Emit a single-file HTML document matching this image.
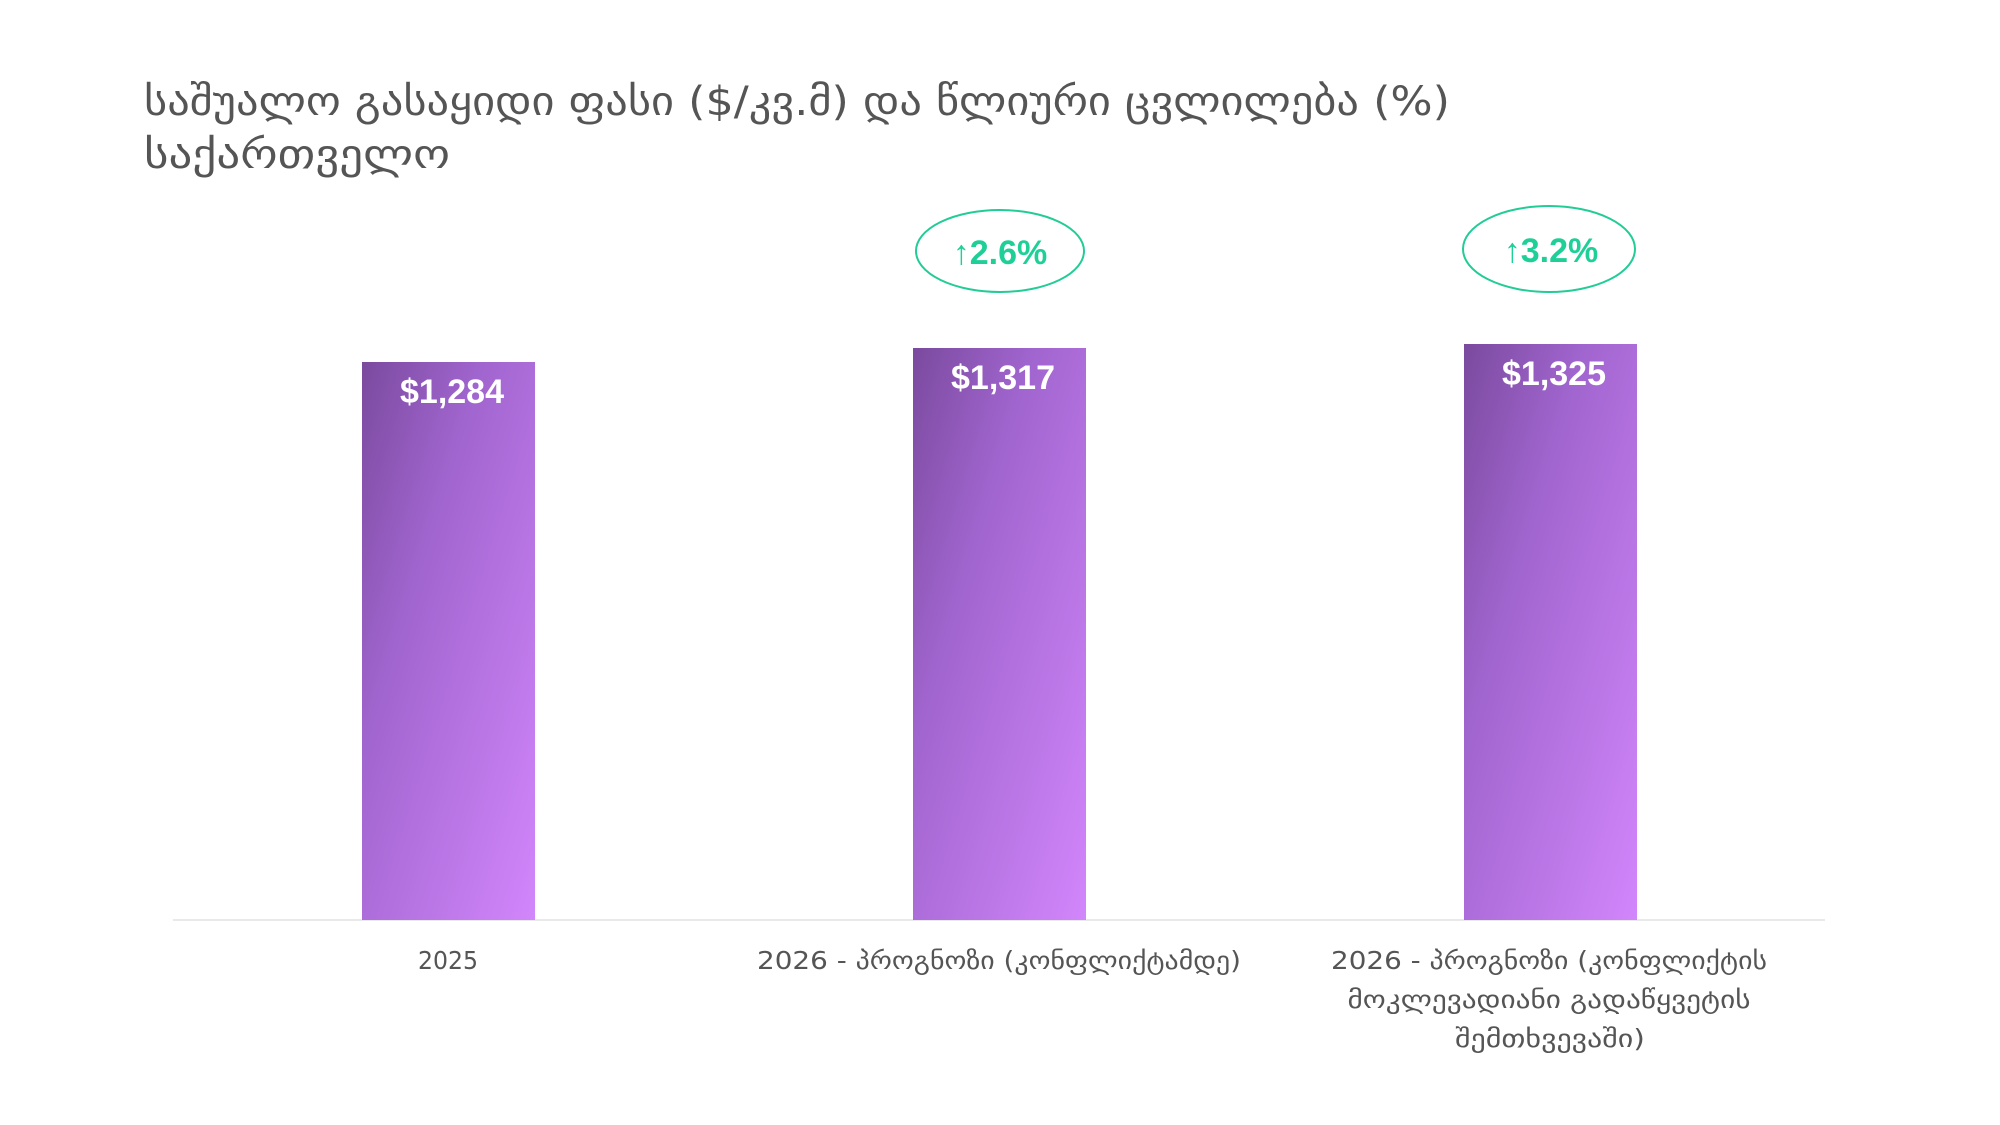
<!DOCTYPE html>
<html><head><meta charset="utf-8"><style>
html,body{margin:0;padding:0;background:#fff;width:2000px;height:1125px;overflow:hidden}
</style></head><body>
<svg width="2000" height="1125" viewBox="0 0 2000 1125" xmlns="http://www.w3.org/2000/svg">
<defs>
<linearGradient id="g" x1="0" y1="0" x2="1" y2="1">
<stop offset="0" stop-color="#7a4a9e"/>
<stop offset="0.35" stop-color="#a165cf"/>
<stop offset="1" stop-color="#d286fb"/>
</linearGradient>
</defs>
<g font-family="'DejaVu Sans','Liberation Sans',sans-serif" fill="#555">
<text x="144" y="115" font-size="40" textLength="1306" lengthAdjust="spacingAndGlyphs">საშუალო გასაყიდი ფასი ($/კვ.მ) და წლიური ცვლილება (%)</text>
<text x="144" y="168" font-size="40" textLength="306" lengthAdjust="spacingAndGlyphs">საქართველო</text>
</g>
<line x1="173" y1="920" x2="1825" y2="920" stroke="#e2e2e2" stroke-width="1.5"/>
<rect x="362" y="362" width="173" height="558" fill="url(#g)"/>
<rect x="913" y="348" width="173" height="572" fill="url(#g)"/>
<rect x="1464" y="344" width="173" height="576" fill="url(#g)"/>
<g font-family="'Liberation Sans',sans-serif" font-weight="bold" fill="#fff" font-size="34" text-anchor="middle">
<text x="452" y="403">$1,284</text>
<text x="1003" y="389">$1,317</text>
<text x="1554" y="385">$1,325</text>
</g>
<ellipse cx="1000" cy="251" rx="84" ry="41" fill="none" stroke="#22cc96" stroke-width="2"/>
<ellipse cx="1549" cy="249" rx="86" ry="43" fill="none" stroke="#22cc96" stroke-width="2"/>
<g font-family="'Liberation Sans',sans-serif" font-weight="bold" fill="#1fcf98" font-size="34" text-anchor="middle">
<text x="1000" y="264">↑2.6%</text>
<text x="1551" y="262">↑3.2%</text>
</g>
<g font-family="'DejaVu Sans','Liberation Sans',sans-serif" fill="#555" font-size="25" text-anchor="middle">
<text x="448" y="969" textLength="60" lengthAdjust="spacingAndGlyphs">2025</text>
<text x="999" y="969" textLength="484" lengthAdjust="spacingAndGlyphs">2026 - პროგნოზი (კონფლიქტამდე)</text>
<text x="1549" y="969" textLength="436" lengthAdjust="spacingAndGlyphs">2026 - პროგნოზი (კონფლიქტის</text>
<text x="1549" y="1008" textLength="403" lengthAdjust="spacingAndGlyphs">მოკლევადიანი გადაწყვეტის</text>
<text x="1550" y="1047" textLength="190" lengthAdjust="spacingAndGlyphs">შემთხვევაში)</text>
</g>
</svg>
</body></html>
